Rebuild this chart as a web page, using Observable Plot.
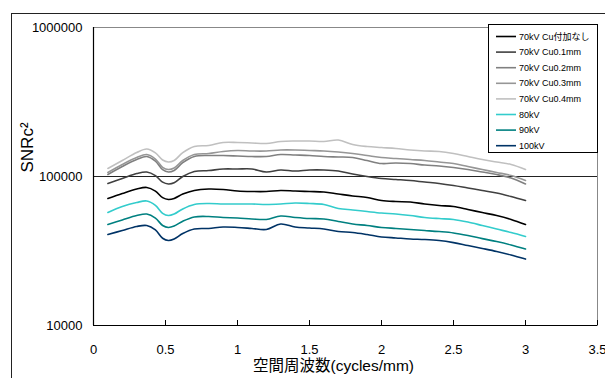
<!DOCTYPE html>
<html><head><meta charset="utf-8">
<script src="https://cdn.jsdelivr.net/npm/d3@7"></script>
<script src="https://cdn.jsdelivr.net/npm/@observablehq/plot@0.6"></script>
<style>
html,body{margin:0;padding:0;background:#fff;overflow:hidden;width:605px;height:378px}
#wrap{position:relative;width:605px;height:378px;font-family:"Liberation Sans",Arial,"Noto Sans CJK JP",sans-serif}
#frame{position:absolute;left:11px;top:13px;width:1000px;height:1000px;border-left:1.5px solid #222;border-top:1.5px solid #222;pointer-events:none}
#legend{position:absolute;left:488px;top:24px;width:110px;height:129px;border:1px solid #000;background:#fff;box-sizing:border-box}
#legend svg{position:absolute;left:0;top:0}
</style></head>
<body><div id="wrap"><div id="chart"></div><div id="frame"></div><div id="legend"></div></div>
<script>
const xs = [0.1,0.2,0.3,0.37,0.43,0.48,0.52,0.56,0.62,0.7,0.8,0.9,1.0,1.1,1.2,1.3,1.4,1.5,1.6,1.7,1.8,1.9,2.0,2.1,2.2,2.3,2.4,2.5,2.6,2.7,2.8,2.9,3.0];

const seriesNames = ["70kV Cu付加なし","70kV Cu0.1mm","70kV Cu0.2mm","70kV Cu0.3mm","70kV Cu0.4mm","80kV","90kV","100kV"];
const seriesColors = ["#000000","#404040","#808080","#969696","#c0c0c0","#33cccc","#008080","#003366"];

const cu0 = [71200,76900,82400,84400,79800,72100,70100,71200,76200,80600,82400,81800,79900,79300,79300,80600,79900,79300,78700,76300,74000,72300,69000,67900,67400,65400,63900,62900,60100,57300,54700,51500,47600];
const cu01 = [89800,97000,104700,107200,101400,91600,89100,90700,100000,108000,109700,112300,112300,112300,107200,110600,108900,110600,110600,108900,103900,100000,97000,95500,94000,91800,89800,87000,83700,80600,77500,73400,69000];
const cu02 = [103100,116700,130000,136200,126700,111100,107200,109700,123800,136200,138300,138300,137300,136200,136200,140500,139400,138300,136200,135200,134100,128000,122200,123200,122200,119400,117600,114900,111400,107200,103100,97700,89100];
const cu03 = [106400,120400,134100,140500,131000,115300,111400,114000,128000,140500,142700,147200,149400,148300,148300,150600,150600,149400,148300,146000,142700,138300,134100,132100,130000,128000,125100,122200,116700,111400,106400,101600,94000];
const cu04 = [113200,128000,144900,153000,144000,129000,125100,128000,144500,159000,161500,169100,169100,167800,166500,171800,173100,173100,171800,175800,164000,159000,156500,154100,150600,148300,147200,142700,136200,130000,125100,120400,111400];
const kv80 = [57300,62900,66900,68500,64000,56600,54700,56000,60600,64900,65900,65400,65400,65400,64900,65400,66400,65900,64900,61000,59600,58200,56900,56000,54700,53100,52200,51500,49500,46900,44400,42100,39600];
const kv90 = [47600,51100,54700,56000,52600,46900,45500,46500,50100,53500,53900,53100,52700,51900,51500,54300,53100,52200,51900,49900,48000,46900,45500,44800,44100,43400,42700,41800,40200,38300,36600,34700,32600];
const kv100 = [40800,43400,46200,46900,43800,38500,37200,38100,41400,44400,44800,45800,45500,44800,44100,48000,45800,45100,44400,42700,42100,40800,39300,38700,38100,37800,37200,36000,34400,32900,31400,29700,27900];

const seriesValues = [cu0,cu01,cu02,cu03,cu04,kv80,kv90,kv100];
const xTicks = [0,0.5,1,1.5,2,2.5,3,3.5];
const yTicks = [10000,100000,1000000];
const xLabel = "空間周波数(cycles/mm)";
const yLabel = "SNRc²";

const rows = [];
seriesValues.forEach((vals, i) => vals.forEach((v, j) => rows.push({x: xs[j], y: v, s: seriesNames[i]})));

const plot = Plot.plot({
  width: 605, height: 378,
  marginLeft: 93, marginRight: 8, marginTop: 27, marginBottom: 53,
  style: {fontFamily: "'Liberation Sans', Arial, 'Noto Sans CJK JP', sans-serif", fontSize: "13px", color: "#000", background: "transparent", overflow: "visible"},
  x: {domain: [0, 3.5]},
  y: {type: "log", domain: [10000, 1000000]},
  color: {domain: seriesNames, range: seriesColors},
  marks: [
    Plot.frame({stroke: "#888"}),
    Plot.ruleY([100000], {stroke: "#222", strokeWidth: 1}),
    Plot.line(rows, {x: "x", y: "y", z: "s", stroke: "s", strokeWidth: 1.6, curve: "catmull-rom"}),
    Plot.axisX({ticks: xTicks, tickFormat: d => String(d), tickSize: -5, tickPadding: 24.5, label: null, stroke: "#000"}),
    Plot.axisY({ticks: yTicks, tickFormat: d => String(d), tickSize: 0, tickPadding: 11, label: null}),
    Plot.ruleX([0], {stroke: "#000", strokeWidth: 1.2}),
    Plot.ruleY([10000], {stroke: "#000", strokeWidth: 1.2}),
    Plot.text([xLabel], {frameAnchor: "bottom", dy: 45, dx: -12, fontSize: 15.5, fill: "#000"}),
    Plot.text([yLabel], {frameAnchor: "left", rotate: -90, dx: -66, dy: -4, fontSize: 17, fill: "#000"})
  ]
});
document.getElementById("chart").appendChild(plot);

// legend
const lg = d3.select("#legend").append("svg").attr("width", 110).attr("height", 129)
  .style("font-family", "'Liberation Sans', Arial, 'Noto Sans CJK JP', sans-serif");
seriesNames.forEach((name, i) => {
  const cy = 11.5 + 15.6 * i;
  lg.append("line").attr("x1", 7).attr("x2", 27).attr("y1", cy).attr("y2", cy)
    .attr("stroke", seriesColors[i]).attr("stroke-width", 1.6);
  lg.append("text").attr("x", 30).attr("y", cy).attr("dy", "0.35em")
    .attr("font-size", 9).attr("fill", "#000").text(name);
});
</script></body></html>
